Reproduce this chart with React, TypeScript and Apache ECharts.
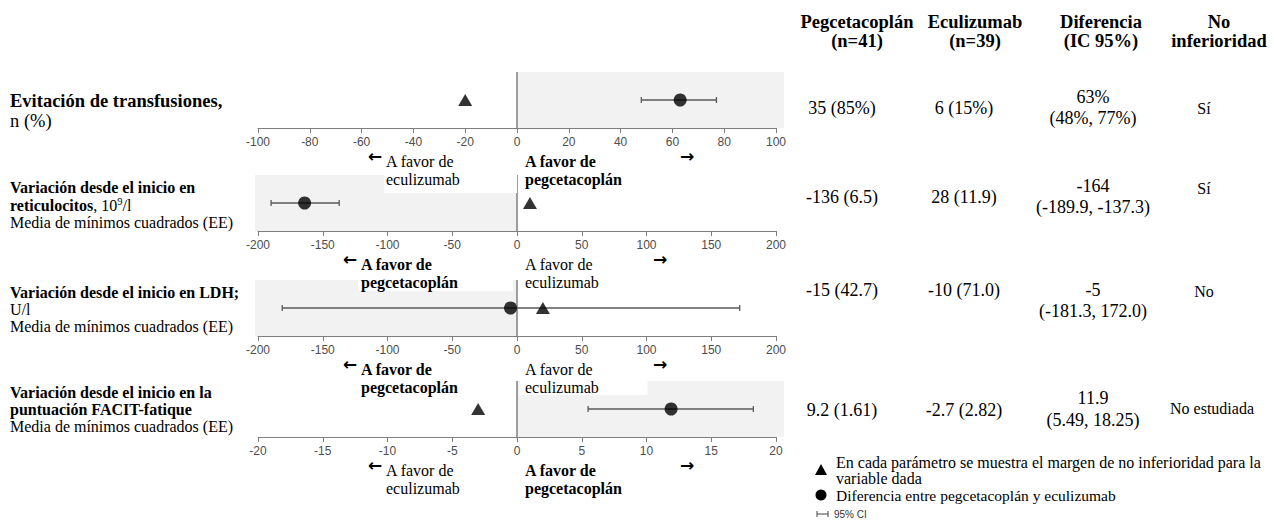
import React, { useEffect, useRef } from "react";
import * as echarts from "echarts";

// ---------- data ----------
const axisMin = [-100, -200, -200, -20];
const axisMax = [100, 200, 200, 20];
const axisStep = [20, 50, 50, 5];
const differences = [63, -164, -5, 11.9];
const ciLow = [48, -189.9, -181.3, 5.49];
const ciHigh = [77, -137.3, 172.0, 18.25];
const niMargins = [-20, 10, 20, -3];
const favoredFrom = [0, -200, -200, 0];
const favoredTo = [100, 0, 0, 20];

const headers = [
  ["Pegcetacoplán", "(n=41)"],
  ["Eculizumab", "(n=39)"],
  ["Diferencia", "(IC 95%)"],
  ["No", "inferioridad"],
];
const pegValues = ["35 (85%)", "-136 (6.5)", "-15 (42.7)", "9.2 (1.61)"];
const ecuValues = ["6 (15%)", "28 (11.9)", "-10 (71.0)", "-2.7 (2.82)"];
const diffText = ["63%", "-164", "-5", "11.9"];
const diffCI = ["(48%, 77%)", "(-189.9, -137.3)", "(-181.3, 172.0)", "(5.49, 18.25)"];
const nonInferiority = ["Sí", "Sí", "No", "No estudiada"];
const leftFavours = ["eculizumab", "pegcetacoplán", "pegcetacoplán", "eculizumab"];
const rightFavours = ["pegcetacoplán", "eculizumab", "eculizumab", "pegcetacoplán"];

// ---------- layout ----------
const SERIF = "Liberation Serif";
const SANS = "Liberation Sans";
const ARROWS = "DejaVu Sans";
const GRID_LEFT = 258;
const GRID_W = 518;
const GRID_H = 56;
const axisY = [128, 231, 336, 437];
const POINT_Y = 0.5;
const rightArrowX = [687, 660, 660, 687];
const valY = [108, 197, 290, 410];
const diffY = [97, 186, 290, 398];
const ciY = [118, 207, 311, 420];
const niY = [108, 188, 291, 408];

function txt(x: number, y: number, text: string, o: any = {}) {
  const size = o.size || 16;
  const weight = o.bold ? "bold" : "normal";
  const family = o.family || SERIF;
  const style: any = {
    text,
    font: `${weight} ${size}px "${family}"`,
    fontFamily: family,
    fontSize: size,
    fontWeight: weight,
    fill: o.fill || "#000",
    align: o.align || "left",
    verticalAlign: "middle",
  };
  if (o.rich) style.rich = o.rich;
  return { type: "text", x, y, z: 60, style };
}

export default function App() {
  const ref = useRef<HTMLDivElement>(null);
  useEffect(() => {
    document.body.style.margin = "0";
    const chart = echarts.init(ref.current!, null, { renderer: "svg" });

    const grids: any[] = [];
    const xAxes: any[] = [];
    const yAxes: any[] = [];
    const series: any[] = [];

    for (let i = 0; i < 4; i++) {
      grids.push({ left: GRID_LEFT, width: GRID_W, top: axisY[i] - GRID_H, height: GRID_H });
      xAxes.push({
        gridIndex: i,
        type: "value",
        min: axisMin[i],
        max: axisMax[i],
        interval: axisStep[i],
        position: "bottom",
        axisLine: { show: true, onZero: false, lineStyle: { color: "#7f7f7f", width: 1 } },
        axisTick: { show: true, length: 5, lineStyle: { color: "#7f7f7f" } },
        axisLabel: { fontFamily: SANS, fontSize: 12, color: "#4d4d4d", margin: 8 },
        splitLine: { show: false },
      });
      yAxes.push({ gridIndex: i, type: "value", min: 0, max: 1, show: false });

      const mn = axisMin[i];
      const mx = axisMax[i];
      series.push({
        type: "custom",
        xAxisIndex: i,
        yAxisIndex: i,
        z: 1,
        silent: true,
        data: [[favoredFrom[i], favoredTo[i]]],
        renderItem: (_p: any, api: any) => {
          const a = api.coord([api.value(0), 1]);
          const b = api.coord([api.value(1), 0]);
          const le = api.value(0) === mn ? 3 : 0;
          const re = api.value(1) === mx ? 8 : 0;
          return {
            type: "rect",
            shape: { x: a[0] - le, y: a[1], width: b[0] - a[0] + le + re, height: b[1] - a[1] },
            style: { fill: "#f2f2f2" },
          };
        },
      });
      series.push({
        type: "custom",
        xAxisIndex: i,
        yAxisIndex: i,
        z: 3,
        silent: true,
        data: [[0]],
        renderItem: (_p: any, api: any) => {
          const a = api.coord([api.value(0), 1]);
          const b = api.coord([api.value(0), 0]);
          return {
            type: "line",
            shape: { x1: a[0], y1: a[1], x2: b[0], y2: b[1] },
            style: { stroke: "#7f7f7f", lineWidth: 1.5 },
          };
        },
      });
      series.push({
        type: "custom",
        xAxisIndex: i,
        yAxisIndex: i,
        z: 4,
        silent: true,
        data: [[ciLow[i], ciHigh[i], POINT_Y]],
        renderItem: (_p: any, api: any) => {
          const a = api.coord([api.value(0), api.value(2)]);
          const b = api.coord([api.value(1), api.value(2)]);
          const st = { stroke: "#595959", lineWidth: 1.3 };
          return {
            type: "group",
            children: [
              { type: "line", shape: { x1: a[0], y1: a[1], x2: b[0], y2: b[1] }, style: st },
              { type: "line", shape: { x1: a[0], y1: a[1] - 3, x2: a[0], y2: a[1] + 3 }, style: st },
              { type: "line", shape: { x1: b[0], y1: b[1] - 3, x2: b[0], y2: b[1] + 3 }, style: st },
            ],
          };
        },
      });
      series.push({
        type: "scatter",
        xAxisIndex: i,
        yAxisIndex: i,
        z: 5,
        symbol: "circle",
        symbolSize: 13,
        itemStyle: { color: "#000" },
        data: [[differences[i], POINT_Y]],
      });
      series.push({
        type: "scatter",
        xAxisIndex: i,
        yAxisIndex: i,
        z: 5,
        symbol: "triangle",
        symbolSize: [14, 12],
        itemStyle: { color: "#000" },
        data: [[niMargins[i], POINT_Y]],
      });
    }

    const g: any[] = [];
    // white text boxes over the shaded areas
    g.push({ type: "rect", z: 50, shape: { x: 384, y: axisY[1] - GRID_H, width: 133, height: 18 }, style: { fill: "#fff" } });
    g.push({ type: "rect", z: 50, shape: { x: 358, y: axisY[2] - GRID_H, width: 155, height: 11 }, style: { fill: "#fff" } });
    g.push({ type: "rect", z: 50, shape: { x: 519.5, y: axisY[3] - GRID_H, width: 128, height: 14 }, style: { fill: "#fff" } });

    // left titles
    g.push(txt(10, 101, "Evitación de transfusiones,", { bold: true, size: 18.5 }));
    g.push(txt(10, 121, "n (%)", { size: 18.5 }));
    g.push(txt(10, 187, "Variación desde el inicio en", { bold: true, size: 16 }));
    g.push(
      txt(10, 205, "{b|reticulocitos}{n|, 10}{s|9}{n|/l}", {
        size: 16,
        rich: {
          b: { fontFamily: SERIF, fontSize: 16, fontWeight: "bold" },
          n: { fontFamily: SERIF, fontSize: 16 },
          s: { fontFamily: SERIF, fontSize: 10.5, padding: [0, 0, 7, 0] },
        },
      })
    );
    g.push(txt(10, 222, "Media de mínimos cuadrados (EE)", { size: 16 }));
    g.push(txt(10, 292, "Variación desde el inicio en LDH;", { bold: true, size: 16 }));
    g.push(txt(10, 309, "U/l", { size: 16 }));
    g.push(txt(10, 326, "Media de mínimos cuadrados (EE)", { size: 16 }));
    g.push(txt(10, 392, "Variación desde el inicio en la", { bold: true, size: 16 }));
    g.push(txt(10, 409, "puntuación FACIT-fatique", { bold: true, size: 16 }));
    g.push(txt(10, 426, "Media de mínimos cuadrados (EE)", { size: 16 }));

    // favour labels
    for (let i = 0; i < 4; i++) {
      const ay = axisY[i];
      const lBold = leftFavours[i] === "pegcetacoplán";
      const rBold = rightFavours[i] === "pegcetacoplán";
      const lx = lBold ? 361 : 386;
      g.push(txt(lx - 11, ay + 28, "←", { size: 17, family: ARROWS, bold: true, align: "center" }));
      g.push(txt(lx, ay + 33, "A favor de", { bold: lBold, size: 16 }));
      g.push(txt(lx, ay + 51, leftFavours[i], { bold: lBold, size: 16 }));
      const rx = 525;
      g.push(txt(rx, ay + 33, "A favor de", { bold: rBold, size: 16 }));
      g.push(txt(rx, ay + 51, rightFavours[i], { bold: rBold, size: 16 }));
      g.push(txt(rightArrowX[i], ay + 28, "→", { size: 17, family: ARROWS, bold: true, align: "center" }));
    }

    // table
    const colHeadX = [857, 975, 1101, 1219];
    for (let c = 0; c < 4; c++) {
      g.push(txt(colHeadX[c], 22, headers[c][0], { bold: true, size: 18.5, align: "center" }));
      g.push(txt(colHeadX[c], 41, headers[c][1], { bold: true, size: 18.5, align: "center" }));
    }
    for (let r = 0; r < 4; r++) {
      g.push(txt(842, valY[r], pegValues[r], { size: 18, align: "center" }));
      g.push(txt(964, valY[r], ecuValues[r], { size: 18, align: "center" }));
      g.push(txt(1093, diffY[r], diffText[r], { size: 18, align: "center" }));
      g.push(txt(1093, ciY[r], diffCI[r], { size: 18, align: "center" }));
      const ni = nonInferiority[r];
      g.push(txt(ni.length > 3 ? 1212 : 1204, niY[r], ni, { size: 16, align: "center" }));
    }

    // legend
    g.push({ type: "polygon", z: 60, shape: { points: [[821, 464], [815, 475], [827, 475]] }, style: { fill: "#000" } });
    g.push(txt(836, 462, "En cada parámetro se muestra el margen de no inferioridad para la", { size: 16 }));
    g.push(txt(836, 478, "variable dada", { size: 16 }));
    g.push({ type: "circle", z: 60, shape: { cx: 821, cy: 495, r: 5.5 }, style: { fill: "#000" } });
    g.push(txt(836, 495, "Diferencia entre pegcetacoplán y eculizumab", { size: 15.5 }));
    const ciSt = { stroke: "#404040", lineWidth: 1 };
    g.push({ type: "line", z: 60, shape: { x1: 817, y1: 514, x2: 828, y2: 514 }, style: ciSt });
    g.push({ type: "line", z: 60, shape: { x1: 817, y1: 511, x2: 817, y2: 517 }, style: ciSt });
    g.push({ type: "line", z: 60, shape: { x1: 828, y1: 511, x2: 828, y2: 517 }, style: ciSt });
    g.push(txt(834, 514, "95% CI", { size: 10, family: SANS, fill: "#333" }));

    chart.setOption({
      animation: false,
      backgroundColor: "#fff",
      grid: grids,
      xAxis: xAxes,
      yAxis: yAxes,
      series,
      graphic: { elements: g },
    });
    return () => chart.dispose();
  }, []);
  return <div ref={ref} style={{ width: 1274, height: 526 }} />;
}
